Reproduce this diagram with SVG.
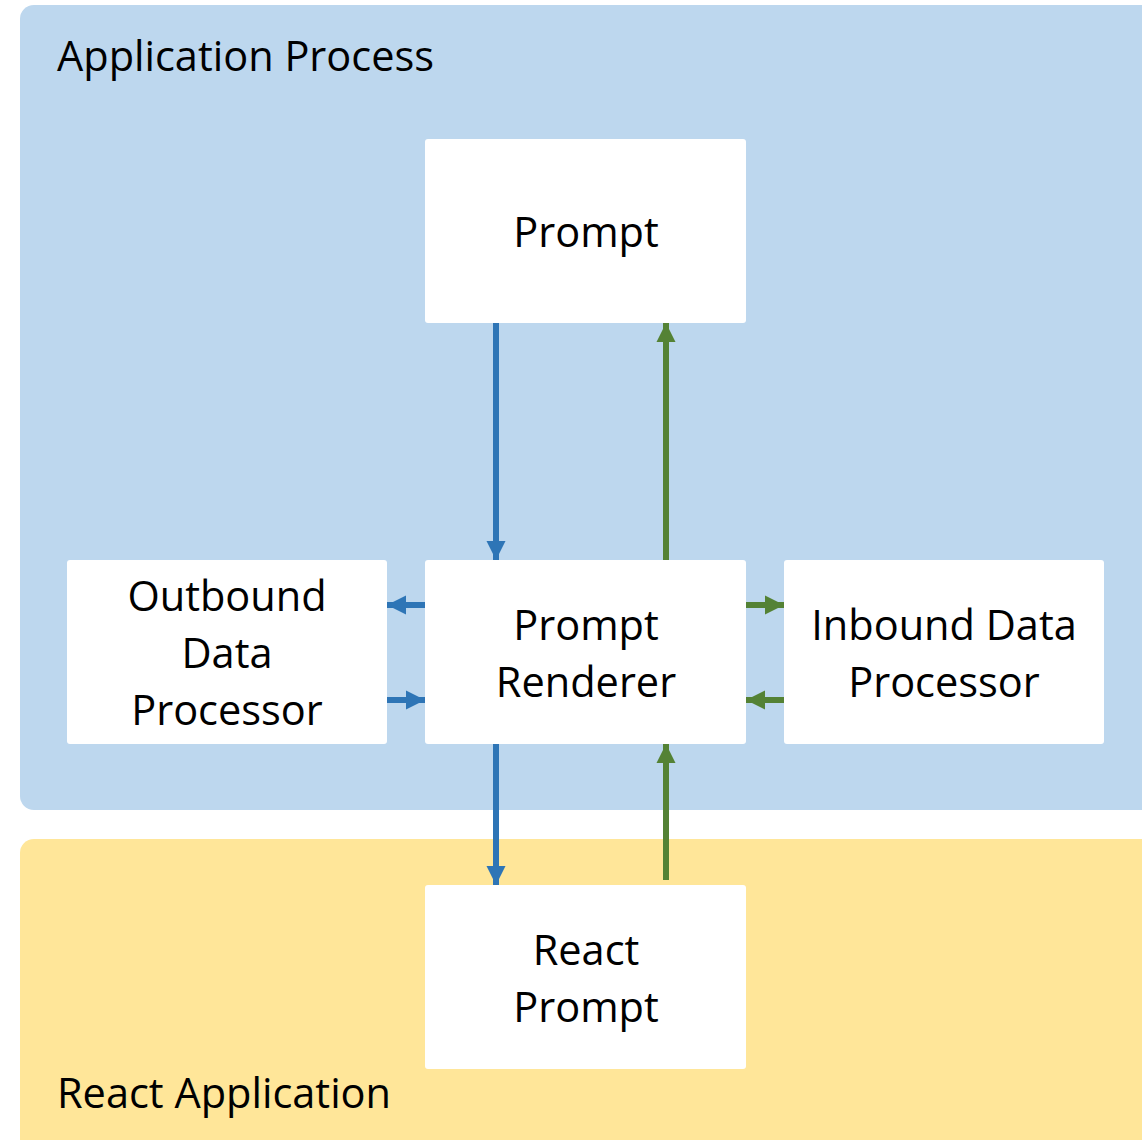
<svg xmlns="http://www.w3.org/2000/svg" width="1142" height="1140" viewBox="0 0 1142 1140">
<style>
.panel-blue{fill:#BDD7EE}
.panel-yellow{fill:#FFE699}
.box{fill:#FFFFFF}
text{font-family:"Open Sans","Noto Sans",sans-serif;font-size:41.5px;fill:#000;text-anchor:middle}
.title{text-anchor:start}
.b{stroke:#2E75B6;stroke-width:6;fill:none}
.g{stroke:#548235;stroke-width:6;fill:none}
</style>
<defs>
<marker id="ab" viewBox="0 0 10 10" refX="10" refY="5" markerWidth="3.2" markerHeight="3.2" orient="auto" markerUnits="strokeWidth"><path d="M0,0 L10,5 L0,10 z" fill="#2E75B6"/></marker>
<marker id="ag" viewBox="0 0 10 10" refX="10" refY="5" markerWidth="3.2" markerHeight="3.2" orient="auto" markerUnits="strokeWidth"><path d="M0,0 L10,5 L0,10 z" fill="#548235"/></marker>
</defs>
<rect width="1142" height="1140" fill="#FFFFFF"/>
<g id="application-process">
<rect class="panel-blue" x="20" y="5" width="1140" height="805" rx="14"/>
<text class="title" x="57" y="71">Application Process</text>
</g>
<g id="react-application">
<rect class="panel-yellow" x="20" y="839" width="1140" height="320" rx="14"/>
<text class="title" x="57" y="1108">React Application</text>
</g>
<g id="prompt">
<rect class="box" x="425" y="139" width="321" height="184" rx="3"/>
<text x="586" y="247">Prompt</text>
</g>
<g id="prompt-renderer">
<rect class="box" x="425" y="560" width="321" height="184" rx="3"/>
<text x="586" y="640">Prompt</text>
<text x="586" y="697">Renderer</text>
</g>
<g id="outbound-data-processor">
<rect class="box" x="67" y="560" width="320" height="184" rx="3"/>
<text x="227" y="611">Outbound</text>
<text x="227" y="668">Data</text>
<text x="227" y="725">Processor</text>
</g>
<g id="inbound-data-processor">
<rect class="box" x="784" y="560" width="320" height="184" rx="3"/>
<text x="944" y="640">Inbound Data</text>
<text x="944" y="697">Processor</text>
</g>
<g id="react-prompt">
<rect class="box" x="425" y="885" width="321" height="184" rx="3"/>
<text x="586" y="965">React</text>
<text x="586" y="1022">Prompt</text>
</g>
<g id="connectors">
<line class="b" x1="496" y1="323" x2="496" y2="560" marker-end="url(#ab)"/>
<line class="g" x1="666" y1="560" x2="666" y2="323" marker-end="url(#ag)"/>
<line class="b" x1="425" y1="605" x2="387" y2="605" marker-end="url(#ab)"/>
<line class="b" x1="387" y1="700" x2="425" y2="700" marker-end="url(#ab)"/>
<line class="g" x1="746" y1="605" x2="784" y2="605" marker-end="url(#ag)"/>
<line class="g" x1="784" y1="700" x2="746" y2="700" marker-end="url(#ag)"/>
<line class="b" x1="496" y1="744" x2="496" y2="885" marker-end="url(#ab)"/>
<line class="g" x1="666" y1="880" x2="666" y2="744" marker-end="url(#ag)"/>
</g>
</svg>
